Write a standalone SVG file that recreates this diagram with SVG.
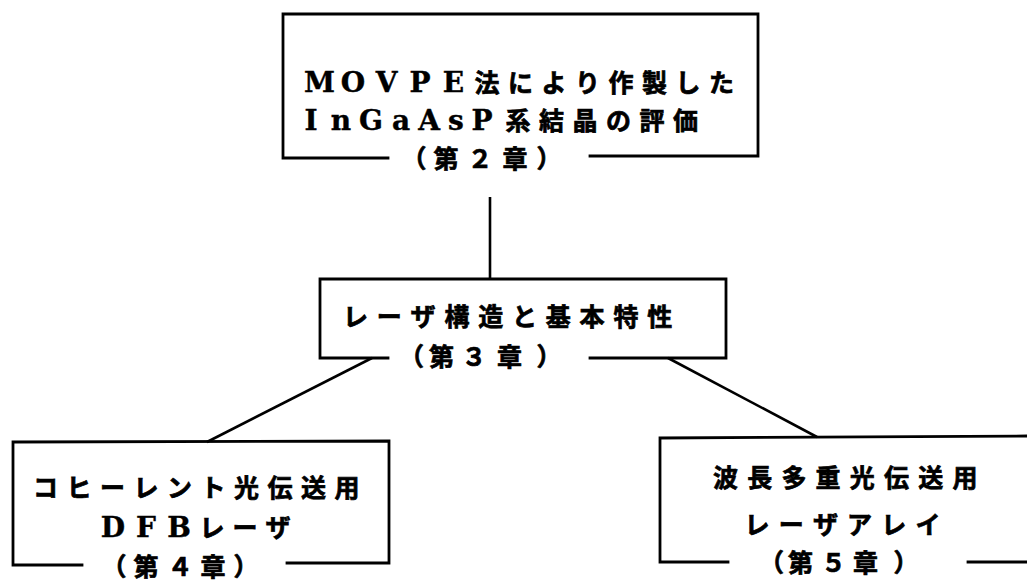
<svg xmlns="http://www.w3.org/2000/svg" width="1027" height="580" viewBox="0 0 1027 580">
<style>
.bx{fill:none;stroke:#000;stroke-width:2.8;stroke-linejoin:miter;stroke-linecap:square}
.cn{fill:none;stroke:#000;stroke-width:2.6}
.t{font-family:"DejaVu Serif","Noto Sans CJK JP",serif;font-weight:bold;font-size:25px;fill:#000;stroke:#000;stroke-width:0.7;text-anchor:middle}
.l{font-size:28px;stroke-width:0.4}
</style>
<rect x="0" y="0" width="1027" height="580" fill="#fff"/>
<g id="connectors">
<path class="cn" d="M490,197 L490,279"/>
<path class="cn" d="M372,358 L207,442"/>
<path class="cn" d="M668,358 L817,437"/>
</g>
<g id="node-ch2">
<path class="bx" d="M388,158 L283,158 L283,14 L758,14 L758,156 L590,156"/>
<text class="t" y="92"><tspan class="l" x="319.5 353 386.5 420 453.5">MOVPE</tspan><tspan x="487 520.5 554 587.5 621 654.5 688 721.5">法により作製した</tspan></text>
<text class="t" y="130"><tspan class="l" x="311 341 371 401 429 456 482">InGaAsP</tspan><tspan x="518 551.5 585 618.5 652 685.5">系結晶の評価</tspan></text>
<text class="t" y="168" x="414 446 480 515 549">（第２章）</text>
</g>
<g id="node-ch3">
<path class="bx" d="M388,358 L320,358 L320,279 L726,279 L726,358 L590,358"/>
<text class="t" y="326" x="355.5 389.3 423.1 456.9 490.7 524.5 558.3 592.1 625.9 659.7">レーザ構造と基本特性</text>
<text class="t" y="366" x="411.5 441.5 474 509.5 549">（第３章）</text>
</g>
<g id="node-ch4">
<path class="bx" d="M82,565 L13,565 L13,442 L389,441 L389,563 L287,563"/>
<text class="t" y="497" x="45.5 79 112.5 146 179.5 213 246.5 280 313.5 347">コヒーレント光伝送用</text>
<text class="t" y="537"><tspan class="l" x="113 146 179">DFB</tspan><tspan x="212 245 278">レーザ</tspan></text>
<text class="t" y="576" x="114 146 180 213 246">（第４章）</text>
</g>
<g id="node-ch5">
<path class="bx" d="M728,562 L660,562 L660,438 L1030,436"/>
<path class="bx" d="M968,562 L1030,562"/>
<text class="t" y="487" x="725.5 759.7 793.9 828.1 862.3 896.5 930.7 964.9">波長多重光伝送用</text>
<text class="t" y="534" x="757 791.2 825.4 859.6 893.8 928">レーザアレイ</text>
<text class="t" y="572" x="771.5 800.5 833.5 865.5 906">（第５章）</text>
</g>
</svg>
